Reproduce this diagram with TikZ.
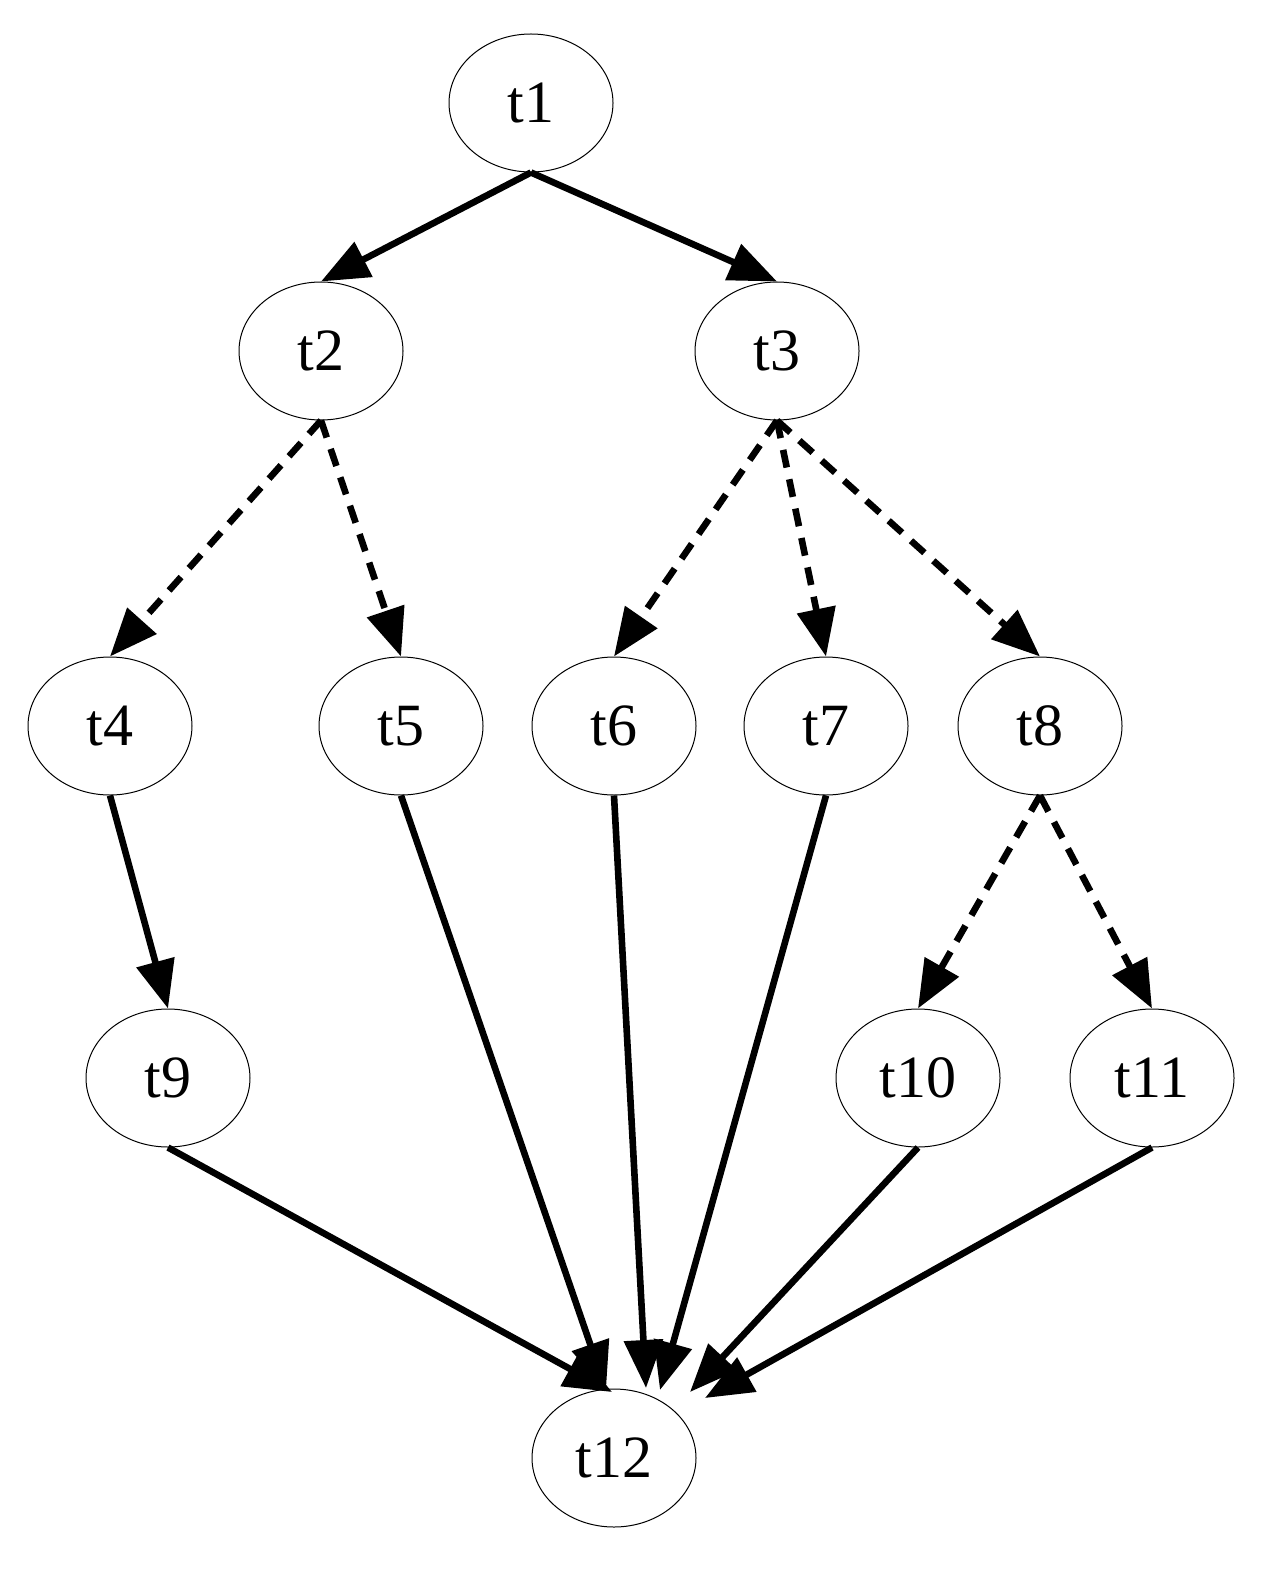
\documentclass[tikz,border=0pt]{standalone}
\usepackage{fontspec}
\setmainfont{Liberation Serif}
\usetikzlibrary{shapes.geometric,arrows.meta}
\tikzset{
  task/.style={draw,ellipse,line width=0.5pt,minimum width=82pt,minimum height=69pt,inner sep=0pt,font=\fontsize{30}{32}\selectfont},
  edge/.style={line width=3.3pt,-{Triangle[length=24pt,width=19pt]}},
  opt/.style={edge,dashed,dash pattern=on 9pt off 6pt}
}
\begin{document}
\begin{tikzpicture}[x=0.5pt,y=0.5pt,yscale=-1]
\useasboundingbox (0,0) rectangle (1288,1593);

% tasks
\node[task] (t1) at (531,103) {t1};
\node[task] (t2) at (321,351) {t2};
\node[task] (t3) at (777,351) {t3};
\node[task] (t4) at (110,726) {t4};
\node[task] (t5) at (401,726) {t5};
\node[task] (t6) at (614,726) {t6};
\node[task] (t7) at (826,726) {t7};
\node[task] (t8) at (1040,726) {t8};
\node[task] (t9) at (168,1078) {t9};
\node[task] (t10) at (918,1078) {t10};
\node[task] (t11) at (1152,1078) {t11};
\node[task] (t12) at (614,1458) {t12};

% ends on t12
\coordinate (e9) at (612,1392);
\coordinate (e5) at (606,1390);
\coordinate (e6) at (646,1388);
\coordinate (e7) at (660,1390);
\coordinate (e10) at (690,1392);
\coordinate (e11) at (705,1398);

% edges
\draw[edge] (t1.south) -- (t2.north);
\draw[edge] (t1.south) -- (t3.north);
\draw[opt] (t2.south) -- (t4.north);
\draw[opt] (t2.south) -- (t5.north);
\draw[opt] (t3.south) -- (t6.north);
\draw[opt] (t3.south) -- (t7.north);
\draw[opt] (t3.south) -- (t8.north);
\draw[edge] (t4.south) -- (t9.north);
\draw[opt] (t8.south) -- (t10.north);
\draw[opt] (t8.south) -- (t11.north);
\foreach \s in {5,6,7,9,10,11}
  \draw[edge] (t\s.south) -- (e\s);
\end{tikzpicture}
\end{document}
